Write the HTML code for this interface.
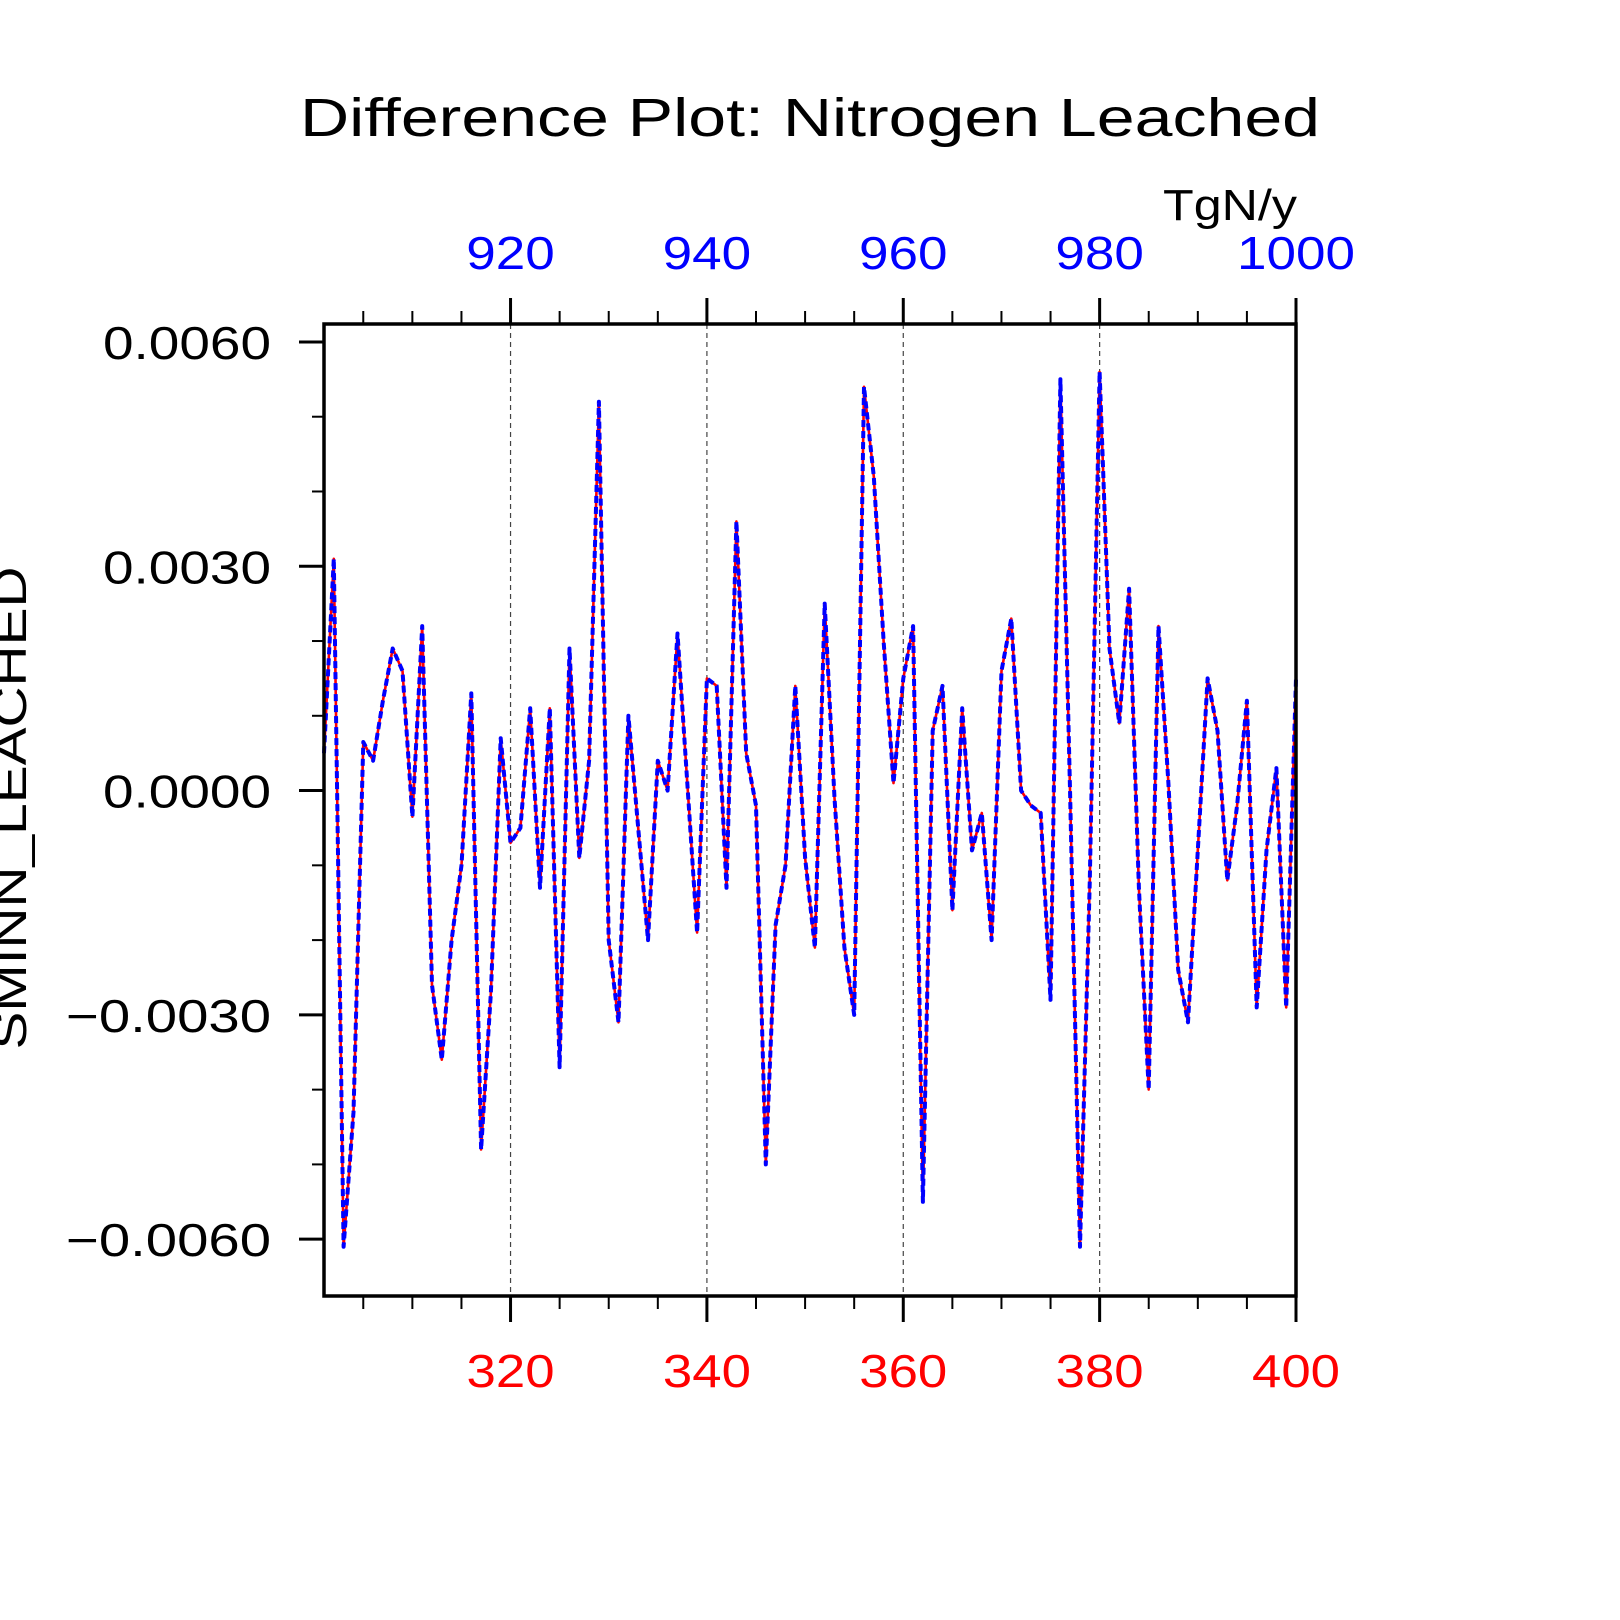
<!DOCTYPE html>
<html><head><meta charset="utf-8"><style>
html,body{margin:0;padding:0;background:#fff;}
svg{display:block;}
text{font-family:"Liberation Sans",sans-serif;}
</style></head><body>
<svg id="chart" width="1620" height="1620" viewBox="0 0 1620 1620" xmlns="http://www.w3.org/2000/svg">
<text x="810" y="136" font-size="54" text-anchor="middle" textLength="1020" lengthAdjust="spacingAndGlyphs" fill="#000">Difference Plot: Nitrogen Leached</text>
<text x="1230" y="220" font-size="44" text-anchor="middle" textLength="134" lengthAdjust="spacingAndGlyphs" fill="#000">TgN/y</text>
<text transform="translate(26,808) rotate(-90)" font-size="46" text-anchor="middle" textLength="483" lengthAdjust="spacingAndGlyphs" fill="#000">SMINN_LEACHED</text>
<g id="grid"></g>
<g id="series"></g>
<rect x="324" y="324" width="972" height="972" fill="none" stroke="#000" stroke-width="3.5"/>
<g id="axes"></g>
</svg>
<script>
const years = [301,302,303,304,305,306,307,308,309,310,311,312,313,314,315,316,317,318,319,320,321,322,323,324,325,326,327,328,329,330,331,332,333,334,335,336,337,338,339,340,341,342,343,344,345,346,347,348,349,350,351,352,353,354,355,356,357,358,359,360,361,362,363,364,365,366,367,368,369,370,371,372,373,374,375,376,377,378,379,380,381,382,383,384,385,386,387,388,389,390,391,392,393,394,395,396,397,398,399,400];
const values = [0.0005,0.0031,-0.0061,-0.0043,0.00065,0.0004,0.0012,0.0019,0.0016,-0.00035,0.0022,-0.0026,-0.0036,-0.002,-0.001,0.0013,-0.0048,-0.0027,0.0007,-0.0007,-0.0005,0.0011,-0.0013,0.0011,-0.0037,0.0019,-0.0009,0.0004,0.0052,-0.002,-0.0031,0.001,-0.0005,-0.002,0.0004,0.0,0.0021,0.0001,-0.0019,0.0015,0.0014,-0.0013,0.0036,0.0005,-0.0002,-0.005,-0.0018,-0.001,0.0014,-0.0009,-0.0021,0.0025,-0.0001,-0.0021,-0.003,0.0054,0.0042,0.002,0.0001,0.0015,0.0022,-0.0055,0.0008,0.0014,-0.0016,0.0011,-0.0008,-0.0003,-0.002,0.0016,0.0023,0.0,-0.0002,-0.0003,-0.0028,0.0055,-0.0001,-0.0061,-0.0012,0.0056,0.0019,0.0009,0.0027,-0.0013,-0.004,0.0022,0.0001,-0.0024,-0.0031,-0.0008,0.0015,0.0008,-0.0012,-0.0002,0.0012,-0.0029,-0.0008,0.0003,-0.0029,0.0015];
const bottomTicks = [320,340,360,380,400];
const topTickLabels = ["920","940","960","980","1000"];
const yTicks = [0.006,0.003,0,-0.003,-0.006];
const yTickLabels = ["0.0060","0.0030","0.0000","\u22120.0030","\u22120.0060"];

const X0=324,X1=1296,Y0=324,Y1=1296, XMIN=301,XMAX=400,YMIN=-0.00676,YMAX=0.00624;
const sx=v=>X0+(v-XMIN)/(XMAX-XMIN)*(X1-X0);
const sy=v=>Y1-(v-YMIN)/(YMAX-YMIN)*(Y1-Y0);
const NS="http://www.w3.org/2000/svg";
function mk(tag,attrs,parent){const e=document.createElementNS(NS,tag);for(const k in attrs)e.setAttribute(k,attrs[k]);parent.appendChild(e);return e;}
const grid=document.getElementById('grid'),axes=document.getElementById('axes'),series=document.getElementById('series');

bottomTicks.forEach((t,i)=>{
  const x=sx(t);
  if(t<XMAX){const g=mk('line',{x1:x,x2:x,y1:Y0,y2:Y1,stroke:'#444','stroke-width':1.2,'stroke-dasharray':'5,4'},grid);
  
  }
  const tb=mk('line',{x1:x,x2:x,y1:Y1,y2:Y1+26,stroke:'#000','stroke-width':3},axes);
  
  
  const tt=mk('line',{x1:x,x2:x,y1:Y0,y2:Y0-26,stroke:'#000','stroke-width':3},axes);
  
  
  const lb=mk('text',{x:x,y:1387,'font-size':46,'text-anchor':'middle',fill:'#ff0000',textLength:t>=1000?118:88,lengthAdjust:'spacingAndGlyphs'},axes);
  lb.textContent=String(t);
  
  
  const lt=mk('text',{x:x,y:269,'font-size':46,'text-anchor':'middle',fill:'#0000ff',textLength:topTickLabels[i].length*29.5,lengthAdjust:'spacingAndGlyphs'},axes);
  lt.textContent=topTickLabels[i];
  
  
});
for(let t=305;t<XMAX;t+=5){
  if(t%20===0)continue;
  const x=sx(t);
  const a=mk('line',{x1:x,x2:x,y1:Y1,y2:Y1+13,stroke:'#000','stroke-width':2},axes);
  
  
  const b=mk('line',{x1:x,x2:x,y1:Y0,y2:Y0-13,stroke:'#000','stroke-width':2},axes);
  
  
}
yTicks.forEach((t,i)=>{
  const y=sy(t);
  const l=mk('line',{x1:X0-25,x2:X0,y1:y,y2:y,stroke:'#000','stroke-width':3},axes);
  
  
  const lab=yTickLabels[i];
  const tx=mk('text',{x:271,y:y+17,'font-size':46,'text-anchor':'end',fill:'#000',textLength:lab.length===6?168:205,lengthAdjust:'spacingAndGlyphs'},axes);
  tx.textContent=lab;
  
  
});
for(let k=-6;k<=6;k++){
  if(k%3===0)continue;
  const y=sy(k*0.001);
  const l=mk('line',{x1:X0-12,x2:X0,y1:y,y2:y,stroke:'#000','stroke-width':2},axes);
  
  
}
const pts=years.map((yr,i)=>sx(yr).toFixed(1)+','+sy(values[i]).toFixed(1)).join(' ');
const red=mk('polyline',{points:pts,fill:'none',stroke:'#ff0000','stroke-width':2.6,'stroke-linejoin':'round'},series);


const blue=mk('polyline',{points:pts,fill:'none',stroke:'#0000ff','stroke-width':4,'stroke-dasharray':'7,4','stroke-linejoin':'round'},series);


</script>
</body></html>
